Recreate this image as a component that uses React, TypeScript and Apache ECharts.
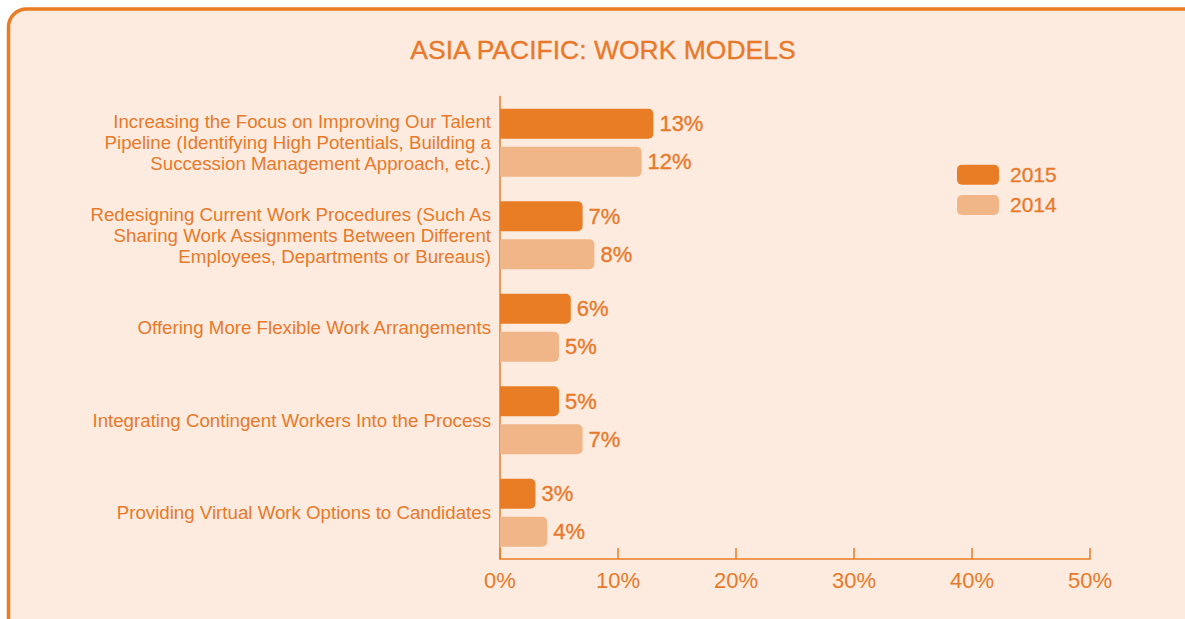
import React, { useEffect, useRef } from "react";
import * as echarts from "echarts";

const title = "ASIA PACIFIC: WORK MODELS";
const categories = [
  "Increasing the Focus on Improving Our Talent\nPipeline (Identifying High Potentials, Building a\nSuccession Management Approach, etc.)",
  "Redesigning Current Work Procedures (Such As\nSharing Work Assignments Between Different\nEmployees, Departments or Bureaus)",
  "Offering More Flexible Work Arrangements",
  "Integrating Contingent Workers Into the Process",
  "Providing Virtual Work Options to Candidates",
];
const seriesNames = ["2015", "2014"];
const values2015 = [13, 7, 6, 5, 3];
const values2014 = [12, 8, 5, 7, 4];

const DARK = "#E97D25";
const LIGHT = "#F1B687";
const BG = "#FDEBDF";
const TEXT = "#E8792A";
const FONT = "'Liberation Sans', Arial, Helvetica, sans-serif";

export default function App() {
  const ref = useRef<HTMLDivElement>(null);
  useEffect(() => {
    if (!ref.current) return;
    const chart = echarts.init(ref.current, null, { renderer: "svg" });
    const labelStyle = {
      show: true,
      position: "right",
      distance: 6,
      formatter: "{c}%",
      fontSize: 22,
      fontFamily: FONT,
      color: TEXT,
      textBorderColor: TEXT,
      textBorderWidth: 0.35,
    };
    chart.setOption({
      animation: false,
      backgroundColor: "#ffffff",
      textStyle: { fontFamily: FONT },
      graphic: [
        {
          type: "rect",
          z: -10,
          silent: true,
          shape: { x: 8.5, y: 9, width: 1220, height: 660, r: 18 },
          style: { fill: BG, stroke: DARK, lineWidth: 3.5 },
        },
        {
          type: "text",
          x: 603,
          y: 50,
          style: {
            text: title,
            fill: TEXT,
            fontSize: 26.5,
            fontFamily: FONT,
            align: "center",
            verticalAlign: "middle",
            stroke: TEXT,
            lineWidth: 0.35,
          },
        },
      ],
      legend: {
        orient: "vertical",
        left: 957,
        top: 164,
        padding: 0,
        itemWidth: 42,
        itemHeight: 20,
        itemGap: 9,
        icon: "roundRect",
        data: seriesNames,
        textStyle: {
          color: TEXT,
          fontSize: 21,
          fontFamily: FONT,
          padding: [0, 0, 0, 6],
          textBorderColor: TEXT,
          textBorderWidth: 0.3,
        },
      },
      grid: { left: 500, right: 95, top: 96.5, bottom: 60, containLabel: false },
      xAxis: {
        type: "value",
        min: 0,
        max: 50,
        interval: 10,
        axisLine: { show: true, lineStyle: { color: DARK, width: 1.5 } },
        axisTick: { show: true, inside: true, length: 11, lineStyle: { color: DARK, width: 1.5 } },
        splitLine: { show: false },
        axisLabel: {
          formatter: "{value}%",
          color: TEXT,
          fontSize: 22,
          fontFamily: FONT,
          margin: 10,
        },
      },
      yAxis: {
        type: "category",
        inverse: true,
        data: categories,
        axisLine: { show: true, lineStyle: { color: DARK, width: 1.5 } },
        axisTick: { show: false },
        axisLabel: {
          color: TEXT,
          fontSize: 18.7,
          fontFamily: FONT,
          lineHeight: 21,
          margin: 9,
          align: "right",
        },
      },
      series: [
        {
          name: seriesNames[0],
          type: "bar",
          data: values2015,
          barWidth: 30,
          barGap: "27%",
          itemStyle: { color: DARK, borderRadius: [0, 5, 5, 0] },
          label: labelStyle,
        },
        {
          name: seriesNames[1],
          type: "bar",
          data: values2014,
          barWidth: 30,
          itemStyle: { color: LIGHT, borderRadius: [0, 5, 5, 0] },
          label: labelStyle,
        },
      ],
    });
    return () => chart.dispose();
  }, []);
  return (
    <div
      ref={ref}
      style={{ position: "fixed", left: 0, top: 0, width: 1185, height: 619 }}
    />
  );
}
